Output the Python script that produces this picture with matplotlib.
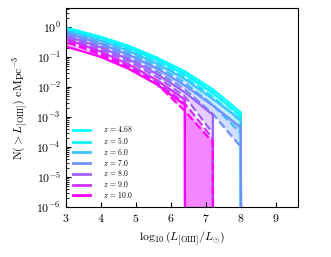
import numpy as np
import matplotlib
matplotlib.use("Agg")
import matplotlib.pyplot as plt

plt.rcParams['font.family'] = 'serif'
plt.rcParams['font.serif'] = ['cmr10', 'DejaVu Serif']
plt.rcParams['mathtext.fontset'] = 'cm'
plt.rcParams['axes.formatter.use_mathtext'] = True

# luminosity grid (log10 L/Lsun)
logL = [2.4, 3.2, 4.0, 4.8, 5.6, 6.4, 7.2, 8.0, 8.8]
redshifts = [4.68, 5.0, 6.0, 7.0, 8.0, 9.0, 10.0]
ninf = -np.inf
# log10 N(>L) for two model variants per redshift (solid / dashed)
solid_log = [
    [0.12, -0.08, -0.33, -0.63, -1.02, -1.48, -2.08, -2.85, ninf],
    [0.08, -0.12, -0.38, -0.70, -1.10, -1.58, -2.20, -2.95, ninf],
    [0.02, -0.19, -0.46, -0.80, -1.22, -1.74, -2.40, -3.10, ninf],
    [-0.05, -0.27, -0.56, -0.93, -1.38, -1.95, -2.62, -3.35, ninf],
    [-0.14, -0.37, -0.68, -1.08, -1.56, -2.18, -2.93, ninf, ninf],
    [-0.25, -0.48, -0.82, -1.25, -1.77, -2.42, ninf, ninf, ninf],
    [-0.45, -0.72, -1.00, -1.40, -1.92, -2.60, ninf, ninf, ninf],
]
dashed_log = [
    [0.10, -0.10, -0.36, -0.67, -1.07, -1.55, -2.18, -3.00, ninf],
    [0.05, -0.15, -0.42, -0.75, -1.17, -1.67, -2.32, -3.15, ninf],
    [-0.02, -0.23, -0.51, -0.87, -1.31, -1.86, -2.60, -3.55, ninf],
    [-0.10, -0.32, -0.62, -1.01, -1.48, -2.08, -2.90, -4.00, ninf],
    [-0.20, -0.43, -0.75, -1.16, -1.66, -2.32, -3.55, ninf, ninf],
    [-0.30, -0.53, -0.87, -1.30, -1.84, -2.55, -3.72, ninf, ninf],
    [-0.35, -0.58, -0.92, -1.35, -1.90, -2.80, -3.85, ninf, ninf],
]

fig = plt.figure(figsize=(3.31, 2.57), dpi=100)
ax = fig.add_axes([0.199, 0.195, 0.701, 0.774])
ax.set_yscale('log', nonpositive='clip')

x = np.array(logL)
zmin, zmax = min(redshifts), max(redshifts)
for z, s, d in zip(redshifts, solid_log, dashed_log):
    c = plt.cm.cool((z - zmin) / (zmax - zmin))
    ys = 10.0 ** np.array(s)
    yd = 10.0 ** np.array(d)
    ax.fill_between(x, ys, yd, color=c, alpha=0.3, lw=0)
    ax.plot(x, ys, color=c, lw=1.6, label=r'$z$ = %s' % z)
    ax.plot(x, yd, color=c, lw=1.6, ls='--')

ax.set_xlim(3, 9.63)
ax.set_ylim(1e-6, 4.3)
ax.set_xticks([3, 4, 5, 6, 7, 8, 9])
ax.tick_params(which='both', direction='in', labelsize=8.5)
ax.tick_params(which='major', length=3.5)
ax.tick_params(which='minor', length=2)
ax.set_xlabel(r'$\log_{10}(L_{\rm [OIII]}/L_{\odot})$', fontsize=8.5)
ax.set_ylabel(r'N$(>L_{\rm [OIII]})$ cMpc$^{-3}$', fontsize=8.5)
leg = ax.legend(loc='lower left', fontsize=5.5, frameon=False, handlelength=2.3,
                handletextpad=1.6, labelspacing=0.1, borderaxespad=0.5)
for h in leg.get_lines():
    h.set_linewidth(2)
fig.savefig('out.png', dpi=100)
